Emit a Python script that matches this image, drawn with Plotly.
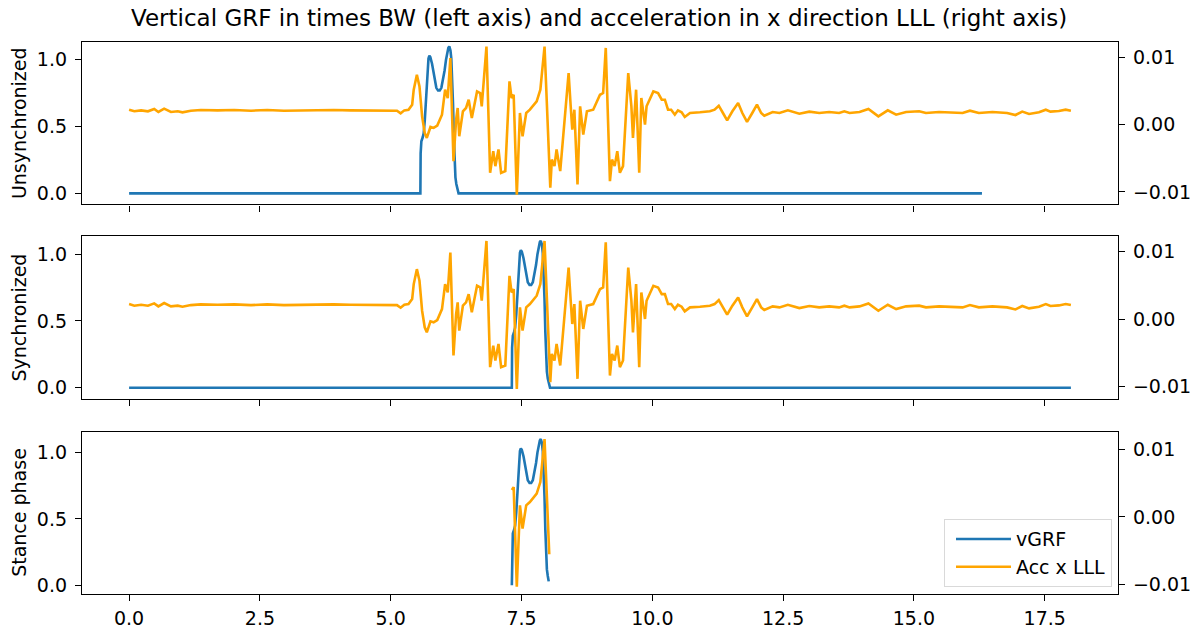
import numpy as np
import plotly.graph_objects as go

# ---------------- data ----------------
# acceleration in x direction, LLL sensor (right axis), time in s
acc_t = [0.00, 0.10, 0.23, 0.36, 0.48, 0.56, 0.67, 0.80, 0.93, 1.02, 1.18, 1.37, 1.69, 2.01,
         2.33, 2.64, 2.96, 3.28, 3.60, 3.91, 4.23, 4.55, 4.87, 5.12, 5.19, 5.26, 5.34, 5.41,
         5.44, 5.50, 5.55, 5.60, 5.65, 5.69, 5.76, 5.82, 5.89, 5.98, 6.04, 6.09, 6.14, 6.17,
         6.20, 6.25, 6.28, 6.31, 6.38, 6.44, 6.49, 6.55, 6.65, 6.71, 6.74, 6.83, 6.90, 6.96,
         7.00, 7.06, 7.11, 7.19, 7.27, 7.31, 7.35, 7.41, 7.47, 7.52, 7.59, 7.66, 7.79, 7.86,
         7.94, 8.05, 8.08, 8.13, 8.17, 8.24, 8.40, 8.44, 8.47, 8.51, 8.57, 8.62, 8.68, 8.75,
         8.87, 9.00, 9.06, 9.11, 9.19, 9.23, 9.28, 9.33, 9.38, 9.44, 9.54, 9.60, 9.63, 9.69,
         9.75, 9.79, 9.86, 9.89, 10.02, 10.11, 10.18, 10.24, 10.30, 10.36, 10.43, 10.49, 10.56,
         10.62, 10.72, 10.91, 11.10, 11.19, 11.27, 11.35, 11.43, 11.53, 11.64, 11.72, 11.81,
         11.91, 12.00, 12.08, 12.14, 12.30, 12.43, 12.59, 12.81, 13.00, 13.19, 13.38, 13.57,
         13.67, 13.77, 13.96, 14.13, 14.32, 14.50, 14.66, 14.85, 15.10, 15.23, 15.48, 15.74,
         15.93, 16.07, 16.24, 16.50, 16.69, 16.78, 16.94, 17.07, 17.20, 17.39, 17.52, 17.61,
         17.77, 17.90, 18.00]
acc_v = [0.00222, 0.00198, 0.00212, 0.00198, 0.00232, 0.00188, 0.00237, 0.00188, 0.00198,
         0.00183, 0.00207, 0.00217, 0.00212, 0.00217, 0.00207, 0.00217, 0.00207, 0.00212,
         0.00207, 0.00217, 0.00212, 0.00207, 0.00212, 0.00207, 0.00168, 0.00212, 0.00222,
         0.00296, 0.00519, 0.00741, 0.00568, 0.00123, -0.00123, -0.00198, -0.00035, -0.00049,
         -0.00015, 0.00148, 0.00519, 0.00395, 0.00988, 0.00272, -0.00543, 0.00074, 0.00247,
         -0.00173, 0.00198, 0.00247, 0.00370, 0.00099, 0.00494, 0.00469, 0.00272, 0.01160,
         -0.00716, -0.00395, -0.00617, -0.00370, -0.00716, -0.00691, 0.00642, 0.00395,
         0.00444, -0.01040, 0.00173, -0.00173, 0.00173, 0.00222, 0.00346, 0.00519, 0.01160,
         -0.00938, -0.00519, -0.00617, -0.00370, -0.00691, 0.00765, 0.00272, -0.00074,
         0.00222, -0.00889, 0.00272, -0.00148, 0.00198, 0.00222, 0.00444, 0.00469, 0.01140,
         -0.00840, -0.00519, -0.00617, -0.00395, -0.00716, -0.00617, 0.00765, 0.00272,
         -0.00198, 0.00519, -0.00716, 0.00395, 0.00000, 0.00272, 0.00494, 0.00469, 0.00370,
         0.00370, 0.00222, 0.00222, 0.00148, 0.00212, 0.00183, 0.00114, 0.00173, 0.00183,
         0.00198, 0.00222, 0.00281, 0.00173, 0.00064, 0.00198, 0.00321, 0.00173, 0.00040,
         0.00173, 0.00296, 0.00173, 0.00133, 0.00188, 0.00173, 0.00212, 0.00163, 0.00193,
         0.00173, 0.00188, 0.00173, 0.00198, 0.00173, 0.00188, 0.00232, 0.00123, 0.00212,
         0.00148, 0.00188, 0.00198, 0.00173, 0.00188, 0.00183, 0.00173, 0.00207, 0.00173,
         0.00188, 0.00183, 0.00173, 0.00143, 0.00193, 0.00158, 0.00183, 0.00222, 0.00193,
         0.00202, 0.00222, 0.00207]

# vertical GRF (times BW) during the stance, time relative to stance onset
grf_rel_t = [0.000, 0.005, 0.019, 0.045, 0.063, 0.085, 0.109, 0.125, 0.139, 0.155, 0.172,
             0.190, 0.223, 0.250, 0.273, 0.305, 0.338, 0.370, 0.401, 0.430, 0.463, 0.490,
             0.515, 0.535, 0.553, 0.575, 0.591, 0.610, 0.624, 0.640, 0.654, 0.670, 0.687,
             0.705, 0.730]
grf_v = [0.00, 0.30, 0.39, 0.42, 0.45, 0.55, 0.70, 0.85, 0.95, 1.01, 1.03, 1.02, 0.97, 0.90,
         0.84, 0.79, 0.77, 0.77, 0.79, 0.84, 0.92, 1.00, 1.06, 1.09, 1.10, 1.07, 1.01, 0.85,
         0.67, 0.42, 0.22, 0.12, 0.07, 0.03, 0.00]

onset_unsync = 5.567      # stance onset in unsynchronized force record
onset_sync = 7.315        # stance onset after synchronization
grf_end_unsync = 16.30    # end of the unsynchronized force record
grf_end_sync = 18.00      # end of the synchronized force record
stance_len = 0.715        # stance duration used for the stance-phase panel

panel_names = ["Unsynchronized", "Synchronized", "Stance phase"]
x_ticks = [0, 2.5, 5, 7.5, 10, 12.5, 15, 17.5]
x_tick_text = ["0.0", "2.5", "5.0", "7.5", "10.0", "12.5", "15.0", "17.5"]
yl_ticks = [0, 0.5, 1.0]
yl_tick_text = ["0.0", "0.5", "1.0"]
yr_ticks = [-0.01, 0, 0.01]
yr_tick_text = ["\u22120.01", "0.00", "0.01"]

BLUE = "#1f77b4"
ORANGE = "#FFA500"
FONT = "DejaVu Sans"
FS = 19          # base font size (px)
FS_TITLE = 23
LW = 2.6

# ---------------- build series ----------------
grf_rel_t_a = np.array(grf_rel_t)
grf_v_a = np.array(grf_v)


def full_grf(onset, end):
    t = np.concatenate([[0.0], onset + grf_rel_t_a, [end]])
    v = np.concatenate([[0.0], grf_v_a, [0.0]])
    return t, v


def clip_series(t, v, t0, t1):
    t = np.asarray(t)
    v = np.asarray(v)
    m = (t > t0) & (t < t1)
    tt = np.concatenate([[t0], t[m], [t1]])
    vv = np.concatenate([[np.interp(t0, t, v)], v[m], [np.interp(t1, t, v)]])
    return tt, vv


g1t, g1v = full_grf(onset_unsync, grf_end_unsync)
g2t, g2v = full_grf(onset_sync, grf_end_sync)
g3t, g3v = clip_series(onset_sync + grf_rel_t_a, grf_v_a, onset_sync, onset_sync + stance_len - 0.01)
a3t, a3v = clip_series(acc_t, acc_v, onset_sync, onset_sync + stance_len)

series = [
    (g1t, g1v, acc_t, acc_v),
    (g2t, g2v, acc_t, acc_v),
    (g3t, g3v, a3t, a3v),
]

# ---------------- figure ----------------
W, H = 1197, 633
x_dom = [82 / W, 1118 / W]
panel_px = [(42, 205), (237, 400), (433, 596)]
yl_ranges = [[-0.082, 1.134], [-0.082, 1.134], [-0.066, 1.156]]
yr_ranges = [[-0.01185, 0.0123], [-0.01185, 0.0123], [-0.0115, 0.0127]]

fig = go.Figure()
layout = dict(
    width=W, height=H,
    margin=dict(l=0, r=0, t=0, b=0),
    paper_bgcolor="white", plot_bgcolor="white",
    font=dict(family=FONT, size=FS, color="black"),
    showlegend=True,
    legend=dict(x=1112 / W, xanchor="right", y=1 - 589 / H, yanchor="bottom",
                bgcolor="white", bordercolor="#d9d9d9", borderwidth=1,
                font=dict(size=FS, family=FONT), tracegroupgap=0,
                itemwidth=55, indentation=6),
    annotations=[],
)

axis_common = dict(showline=True, linecolor="black", linewidth=1.3,
                   ticks="outside", ticklen=6, tickcolor="black", tickwidth=1.3,
                   showgrid=False, zeroline=False, tickfont=dict(size=FS, family=FONT))

for i, ((gt, gv, at, av), name, (ptop, pbot)) in enumerate(zip(series, panel_names, panel_px)):
    xi = i + 1
    yl = 2 * i + 1
    yr = 2 * i + 2
    xname = "x" if xi == 1 else f"x{xi}"
    ylname = "y" if yl == 1 else f"y{yl}"
    yrname = f"y{yr}"
    fig.add_trace(go.Scatter(x=gt, y=gv, mode="lines", name="vGRF",
                             line=dict(color=BLUE, width=LW), xaxis=xname, yaxis=ylname,
                             showlegend=(i == 2), legendrank=1))
    fig.add_trace(go.Scatter(x=at, y=av, mode="lines", name="Acc x LLL",
                             line=dict(color=ORANGE, width=LW), xaxis=xname, yaxis=yrname,
                             showlegend=(i == 2), legendrank=2))
    dom = [1 - pbot / H, 1 - ptop / H]
    xkey = "xaxis" if xi == 1 else f"xaxis{xi}"
    ylkey = "yaxis" if yl == 1 else f"yaxis{yl}"
    yrkey = f"yaxis{yr}"
    layout[xkey] = dict(axis_common, domain=x_dom, anchor=ylname, range=[-0.9, 18.9],
                        mirror=True, tickvals=x_ticks, ticktext=x_tick_text,
                        showticklabels=(i == 2), ticklabelstandoff=1)
    layout[ylkey] = dict(axis_common, domain=dom, anchor=xname, range=yl_ranges[i],
                         tickvals=yl_ticks, ticktext=yl_tick_text, ticklabelstandoff=4)
    layout[yrkey] = dict(axis_common, overlaying=ylname, side="right", anchor=xname,
                         range=yr_ranges[i], tickvals=yr_ticks, ticktext=yr_tick_text,
                         ticklabelstandoff=4)
    layout["annotations"].append(dict(
        text=name, x=19 / W, y=1 - (ptop + pbot) / 2 / H, xref="paper", yref="paper",
        xanchor="center", yanchor="middle", textangle=-90, showarrow=False,
        font=dict(size=FS, family=FONT, color="black")))

layout["annotations"].append(dict(
    text="Vertical GRF in times BW (left axis) and acceleration in x direction LLL (right axis)",
    x=599 / W, y=1 - 18 / H, xref="paper", yref="paper", xanchor="center", yanchor="middle",
    showarrow=False, font=dict(size=FS_TITLE, family=FONT, color="black")))

fig.update_layout(**layout)
fig.write_html("out.html")
